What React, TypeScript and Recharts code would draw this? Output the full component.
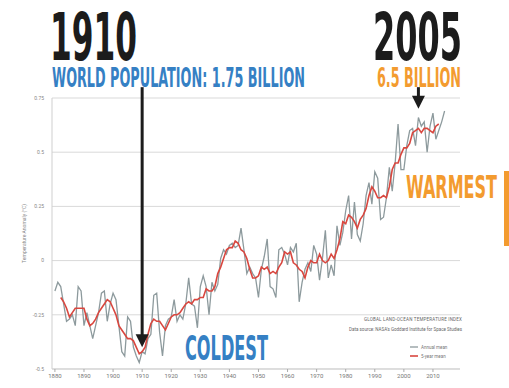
import {
  LineChart,
  Line,
  XAxis,
  YAxis,
  CartesianGrid,
  ReferenceLine,
} from "recharts";

// Global land-ocean temperature index, anomaly in °C
const startYear = 1880;
const annualMean = [
  -0.14, -0.1, -0.12, -0.2, -0.28, -0.27, -0.25, -0.3, -0.12, -0.14,
  -0.3, -0.24, -0.3, -0.36, -0.3, -0.24, -0.15, -0.14, -0.28, -0.2,
  -0.15, -0.18, -0.3, -0.42, -0.44, -0.26, -0.28, -0.4, -0.44, -0.47,
  -0.42, -0.43, -0.36, -0.34, -0.16, -0.15, -0.33, -0.44, -0.3, -0.27,
  -0.26, -0.18, -0.28, -0.25, -0.27, -0.2, -0.08, -0.2, -0.21, -0.31,
  -0.12, -0.07, -0.12, -0.25, -0.1, -0.14, -0.11, 0.01, 0.05, 0.03,
  0.07, 0.08, 0.06, 0.07, 0.15, 0.05, -0.06, -0.03, -0.06, -0.08,
  -0.17, -0.04, 0.02, 0.1, -0.12, -0.13, -0.17, 0.05, 0.06, 0.03,
  -0.02, 0.06, 0.04, 0.08, -0.19, -0.1, -0.04, -0.01, -0.05, 0.07,
  0.03, -0.09, 0.01, 0.14, -0.08, -0.02, -0.07, 0.16, 0.07, 0.13,
  0.23, 0.3, 0.1, 0.27, 0.12, 0.09, 0.17, 0.3, 0.36, 0.26,
  0.41, 0.38, 0.19, 0.2, 0.29, 0.43, 0.32, 0.45, 0.63, 0.42,
  0.42, 0.53, 0.6, 0.61, 0.53, 0.66, 0.62, 0.64, 0.5, 0.62,
  0.68, 0.56, 0.6, 0.64, 0.69,
];
const fiveYearMean = [
  null, null, -0.17, -0.19, -0.22, -0.26, -0.24, -0.22, -0.22, -0.22,
  -0.22, -0.27, -0.3, -0.29, -0.27, -0.24, -0.22, -0.2, -0.18, -0.19,
  -0.22, -0.25, -0.3, -0.32, -0.34, -0.36, -0.36, -0.37, -0.4, -0.43,
  -0.42, -0.4, -0.34, -0.29, -0.27, -0.28, -0.28, -0.3, -0.32, -0.29,
  -0.26, -0.25, -0.25, -0.24, -0.22, -0.2, -0.19, -0.2, -0.18, -0.18,
  -0.17, -0.17, -0.13, -0.14, -0.14, -0.12, -0.06, -0.03, 0.01, 0.05,
  0.06, 0.06, 0.09, 0.08, 0.05, 0.04, 0.01, -0.04, -0.08, -0.08,
  -0.07, -0.03, -0.04, -0.03, -0.06, -0.05, -0.06, -0.03, -0.01, 0.04,
  0.03, 0.04, -0.01, -0.02, -0.04, -0.05, -0.08, -0.03, 0.0, -0.01,
  -0.01, 0.03, 0.0, -0.01, 0.0, 0.03, 0.01, 0.05, 0.1, 0.18,
  0.17, 0.21, 0.2, 0.18, 0.15, 0.19, 0.21, 0.24, 0.3, 0.34,
  0.32, 0.29, 0.29, 0.3, 0.29, 0.34, 0.42, 0.45, 0.45, 0.49,
  0.52, 0.52, 0.54, 0.59, 0.6, 0.61, 0.59, 0.61, 0.61, 0.6,
  0.59, 0.62, 0.63, null, null,
];
const yearTicks = [
  1880, 1890, 1900, 1910, 1920, 1930, 1940, 1950, 1960, 1970, 1980, 1990,
  2000, 2010,
];
const anomalyTicks = [-0.5, -0.25, 0, 0.25, 0.5, 0.75];

const data = annualMean.map((v, i) => ({
  year: startYear + i,
  annual: v,
  fiveYear: fiveYearMean[i],
}));

const BLUE = "#3580c4";
const ORANGE = "#f39b2f";
const INK = "#1c1c1c";
const NARROW = "'Liberation Sans Narrow', 'DejaVu Sans Condensed', Roboto, sans-serif";

function Arrow(props: any) {
  const { x1, y1, x2, y2 } = props;
  const head = 13;
  return (
    <g>
      <line x1={x1} y1={y1} x2={x2} y2={y2 - head + 2} stroke={INK} strokeWidth={3} />
      <path
        d={`M${x2 - 6.5},${y2 - head} L${x2 + 6.5},${y2 - head} L${x2},${y2} Z`}
        fill={INK}
      />
    </g>
  );
}

const fmtTick = (v: number) => String(v);

export default function App() {
  return (
    <div
      style={{
        position: "absolute",
        left: 0,
        top: 0,
        width: 509,
        height: 388,
        background: "#fff",
        fontFamily: "Roboto, sans-serif",
      }}
    >
      <LineChart
        width={509}
        height={388}
        data={data}
        margin={{ top: 98, right: 49, bottom: 5, left: 32 }}
      >
        <CartesianGrid stroke="#d9d9d9" vertical={false} />
        <XAxis
          dataKey="year"
          type="number"
          domain={[1879, 2019.3]}
          ticks={yearTicks}
          tick={{ fill: "#777", fontSize: 6 }}
          tickLine={{ stroke: "#aaa" }}
          tickSize={3}
          axisLine={{ stroke: "#cfcfcf" }}
          height={14}
          interval={0}
        />
        <YAxis
          type="number"
          domain={[-0.5, 0.75]}
          ticks={anomalyTicks}
          tickFormatter={fmtTick}
          tick={{ fill: "#888", fontSize: 5 }}
          tickLine={false}
          axisLine={{ stroke: "#cfcfcf" }}
          width={20}
          label={{
            value: "Temperature Anomaly (°C)",
            angle: -90,
            position: "insideLeft",
            offset: -8,
            style: { fill: "#888", fontSize: 5, textAnchor: "middle" },
          }}
        />
        <Line
          dataKey="annual"
          stroke="#8d9a9d"
          strokeWidth={1.3}
          dot={false}
          isAnimationActive={false}
        />
        <Line
          dataKey="fiveYear"
          stroke="#d9473f"
          strokeWidth={1.6}
          dot={false}
          connectNulls={false}
          isAnimationActive={false}
        />
        <ReferenceLine
          segment={[
            { x: 1910, y: 0.8 },
            { x: 1910, y: -0.4 },
          ]}
          ifOverflow="visible"
          shape={Arrow}
        />
        <ReferenceLine
          segment={[
            { x: 2005, y: 0.8 },
            { x: 2005, y: 0.7 },
          ]}
          ifOverflow="visible"
          shape={Arrow}
        />
      </LineChart>

      <svg
        width={509}
        height={388}
        style={{ position: "absolute", left: 0, top: 0, pointerEvents: "none" }}
      >
        <text x={50} y={60} fontFamily={NARROW} fontWeight={700} fontSize={66} fill={INK}
          textLength={87} lengthAdjust="spacingAndGlyphs">1910</text>
        <text x={373} y={60} fontFamily={NARROW} fontWeight={700} fontSize={66} fill={INK}
          textLength={89} lengthAdjust="spacingAndGlyphs">2005</text>
        <text x={52} y={87} fontFamily={NARROW} fontWeight={700} fontSize={26} fill={BLUE}
          textLength={253} lengthAdjust="spacingAndGlyphs">WORLD POPULATION: 1.75 BILLION</text>
        <text x={377} y={87} fontFamily={NARROW} fontWeight={700} fontSize={26} fill={ORANGE}
          textLength={84} lengthAdjust="spacingAndGlyphs">6.5 BILLION</text>
        <text x={185} y={360} fontFamily={NARROW} fontWeight={700} fontSize={33} fill={BLUE}
          textLength={83} lengthAdjust="spacingAndGlyphs">COLDEST</text>
        <text x={406} y={198} fontFamily={NARROW} fontWeight={700} fontSize={32} fill={ORANGE}
          textLength={91} lengthAdjust="spacingAndGlyphs">WARMEST</text>
        <rect x={504} y={171} width={5} height={75} fill={ORANGE} />

        <text x={462} y={321} textAnchor="end" fontSize={4.5} fill="#666" letterSpacing={0.2}>
          GLOBAL LAND-OCEAN TEMPERATURE INDEX
        </text>
        <text x={462} y={331} textAnchor="end" fontSize={4.5} fill="#666">
          Data source: NASA's Goddard Institute for Space Studies
        </text>

        <line x1={410} y1={347} x2={418} y2={347} stroke="#8d9a9d" strokeWidth={1.3} />
        <text x={421} y={349} fontSize={4.5} fill="#777">Annual mean</text>
        <line x1={410} y1={356} x2={418} y2={356} stroke="#d9473f" strokeWidth={1.6} />
        <text x={421} y={358} fontSize={4.5} fill="#777">5-year mean</text>
      </svg>
    </div>
  );
}
